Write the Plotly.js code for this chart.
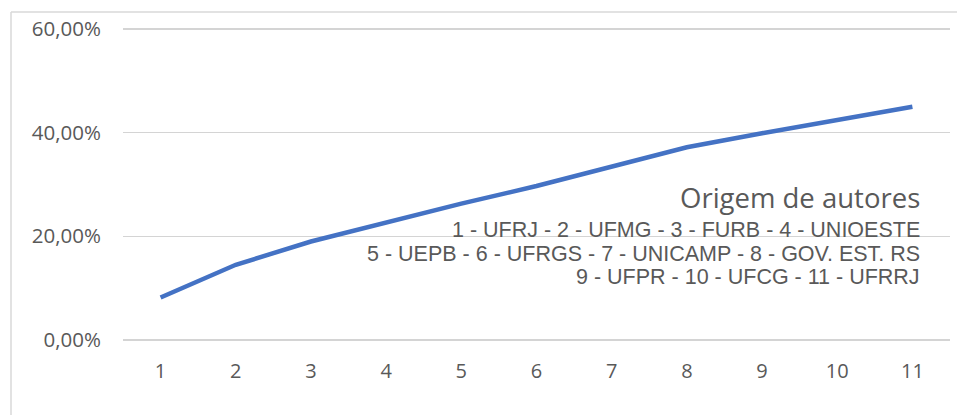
<!DOCTYPE html>
<html>
<head>
<meta charset="utf-8">
<script src="https://cdn.plot.ly/plotly-3.0.1.min.js"></script>
<style>
html,body{margin:0;padding:0;background:#fff;}
#chart{width:957px;height:415px;}
</style>
</head>
<body>
<div id="chart"></div>
<script>
var categories = [1, 2, 3, 4, 5, 6, 7, 8, 9, 10, 11];
var values = [0.082, 0.145, 0.190, 0.227, 0.263, 0.297, 0.334, 0.372, 0.399, 0.424, 0.450];
var yTickVals = [0, 0.2, 0.4, 0.6];
var yTickText = ['0,00%', '20,00%', '40,00%', '60,00%'];
var titleText = 'Origem de autores';
var legendLines = [
  '1 - UFRJ - 2 - UFMG - 3 - FURB - 4 - UNIOESTE',
  '5 - UEPB - 6 - UFRGS - 7 - UNICAMP - 8 - GOV. EST. RS',
  '9 - UFPR - 10 - UFCG - 11 - UFRRJ'
];

var W = 957, H = 415;
var y0px = 340.3, y60px = 29;           // pixel rows of 0% and 60%
var pxPerUnit = (y0px - y60px) / 0.6;
var pad = 0.004;                          // small range padding so edge gridlines show
var L = 123, R = 7;
var T = y60px - pad * pxPerUnit, B = H - y0px - pad * pxPerUnit;
var pw = W - L - R, ph = H - T - B;
function px2paperX(x){ return (x - L) / pw; }
function px2paperY(y){ return (H - B - y) / ph; }

var textColor = '#595959';
var annotations = [{
  xref: 'paper', yref: 'paper',
  x: px2paperX(922), y: px2paperY(198),
  xanchor: 'right', yanchor: 'middle',
  text: titleText, showarrow: false,
  font: {family: 'Open Sans, sans-serif', size: 27.5, color: textColor}
}];
var lineYs = [230, 254, 277];
legendLines.forEach(function(t, i){
  annotations.push({
    xref: 'paper', yref: 'paper',
    x: px2paperX(922), y: px2paperY(lineYs[i]),
    xanchor: 'right', yanchor: 'middle',
    text: t, showarrow: false,
    font: {family: 'Liberation Sans, Arial, sans-serif', size: 21.5, color: textColor}
  });
});

var trace = {
  x: categories, y: values,
  type: 'scatter', mode: 'lines',
  line: {color: '#4472C4', width: 4.5},
  hoverinfo: 'skip'
};

var layout = {
  width: W, height: H,
  margin: {l: L, r: R, t: T, b: B},
  paper_bgcolor: '#ffffff', plot_bgcolor: '#ffffff',
  showlegend: false,
  xaxis: {
    range: [0.5, 11.5],
    tickvals: categories,
    ticktext: categories.map(String),
    showgrid: false, zeroline: false, showline: false,
    ticks: '',
    ticklabelstandoff: 15,
    tickfont: {family: 'Open Sans, sans-serif', size: 20, color: textColor}
  },
  yaxis: {
    range: [-pad, 0.6 + pad],
    tickvals: yTickVals,
    ticktext: yTickText,
    showgrid: true, gridcolor: '#d4d4d4', gridwidth: 1.5,
    zeroline: false, showline: false,
    ticks: '',
    ticklabelstandoff: 21,
    tickfont: {family: 'Open Sans, sans-serif', size: 20.5, color: textColor}
  },
  annotations: annotations,
  shapes: [
    {type: 'line', xref: 'paper', yref: 'paper', x0: px2paperX(11), x1: px2paperX(11), y0: px2paperY(12), y1: px2paperY(420), line: {color: '#d9d9d9', width: 1.5}},
    {type: 'line', xref: 'paper', yref: 'paper', x0: px2paperX(11), x1: px2paperX(960), y0: px2paperY(12), y1: px2paperY(12), line: {color: '#d9d9d9', width: 1.5}}
  ]
};

Plotly.newPlot('chart', [trace], layout, {displayModeBar: false, staticPlot: true});
</script>
</body>
</html>
